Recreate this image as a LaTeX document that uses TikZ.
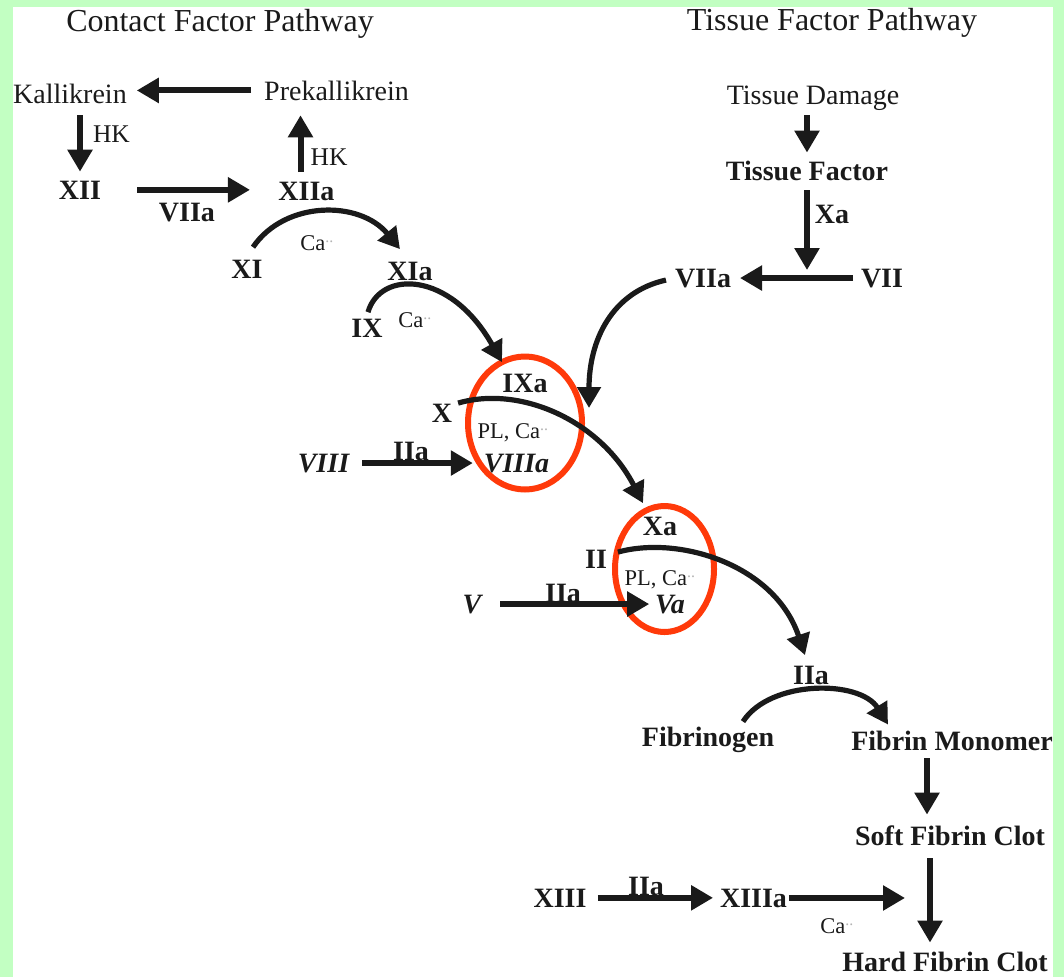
\documentclass[tikz,border=0pt]{standalone}
\usepackage{fontspec}
\setmainfont{Liberation Serif}
\usetikzlibrary{arrows.meta,shapes.geometric,calc}
\definecolor{bggreen}{HTML}{C2FFC2}
\definecolor{ringred}{HTML}{FF3A0A}
\definecolor{ink}{HTML}{1A1A1A}
\newcommand\CaPP{Ca\textsuperscript{\textcolor{black!30}{..}}}
\begin{document}
\begin{tikzpicture}[x=1pt,y=-1pt,
  lbl/.style={inner sep=0pt, outer sep=0pt, anchor=base, text=ink, font=\fontsize{28}{33}\selectfont},
  bl/.style={lbl, font=\fontsize{28}{33}\selectfont\bfseries},
  bi/.style={lbl, font=\fontsize{28}{33}\selectfont\bfseries\itshape},
  ttl/.style={lbl, font=\fontsize{32}{38}\selectfont},
  hk/.style={lbl, font=\fontsize{25.5}{30}\selectfont},
  sm/.style={lbl, font=\fontsize{22.5}{27}\selectfont},
  arr/.style={draw=ink, line width=6pt, -{Triangle[length=22pt,width=24pt]}},
  carr/.style={draw=ink, line width=5.2pt, -{Triangle[length=21pt,width=23pt]}},
  ring/.style={draw=ringred, line width=6pt, ellipse, inner sep=0pt, outer sep=0pt}
]
\fill[bggreen] (0,0) rectangle (1064,977);
\fill[white] (13,7) rectangle (1053,977);
\useasboundingbox (0,0) rectangle (1064,977);

% red rings
\node[ring, minimum width=114pt, minimum height=133pt] (e1) at (525,423) {};
\node[ring, minimum width=99pt, minimum height=126pt] (e2) at (664.5,569) {};

% titles
\node[ttl] (tc) at (220,31) {Contact Factor Pathway};
\node[ttl] (tt) at (832,30) {Tissue Factor Pathway};

% contact pathway
\node[lbl] (kal) at (70,103) {Kallikrein};
\node[lbl] (pre) at (336.5,100) {Prekallikrein};
\node[hk] (hk1) at (111.5,142) {HK};
\node[hk] (hk2) at (329,165) {HK};
\node[bl] (xii) at (80,199) {XII};
\node[bl] (xiia) at (306.5,200) {XIIa};
\node[bl] (l7a) at (187,221) {VIIa};
\node[bl] (xi) at (247,278) {XI};
\node[bl] (xia) at (410,280) {XIa};
\node[sm] (ca1) at (317,250) {\CaPP};
\node[bl] (ix) at (367,337) {IX};
\node[sm] (ca2) at (415,327) {\CaPP};

% tissue factor pathway
\node[lbl] (td) at (813,104) {Tissue Damage};
\node[bl] (tf) at (807,180) {Tissue Factor};
\node[bl] (xal) at (832,223) {Xa};
\node[bl] (viiar) at (703,287) {VIIa};
\node[bl] (vii) at (882,287) {VII};

% tenase
\node[bl] (ixa) at (525,392) {IXa};
\node[bl] (xx) at (442,422) {X};
\node[sm] (pl1) at (513,438) {PL, \CaPP};
\node[bi] (viiia) at (516.5,472) {VIIIa};
\node[bi] (viii) at (323.5,472) {VIII};
\node[bl] (iia1) at (411,460) {IIa};

% prothrombinase
\node[bl] (xa) at (660,535) {Xa};
\node[bl] (ii) at (596,568) {II};
\node[sm] (pl2) at (660,585) {PL, \CaPP};
\node[bi] (va) at (670,613) {Va};
\node[bi] (v) at (472,613) {V};
\node[bl] (iia2) at (563,602) {IIa};

% fibrin
\node[bl] (iia3) at (811,684) {IIa};
\node[bl] (fib) at (708,746) {Fibrinogen};
\node[bl] (fm) at (952,750) {Fibrin Monomer};
\node[bl] (sfc) at (950,845) {Soft Fibrin Clot};
\node[bl] (hfc) at (945,971) {Hard Fibrin Clot};
\node[bl] (xiii) at (560,907) {XIII};
\node[bl] (xiiia) at (753.5,907) {XIIIa};
\node[bl] (iia4) at (646,895) {IIa};
\node[sm] (ca3) at (837,933) {\CaPP};
\coordinate (xend) at (905,898);

% straight connectors
\draw[arr, shorten <=13pt, shorten >=10pt] (pre.west) -- (pre.west -| kal.east);
\draw[arr, shorten <=12pt, shorten >=9pt] (kal.south -| xii.north) -- (xii.north);
\draw[arr, shorten <=36pt, shorten >=28.5pt] (xii.east) -- (xii.east -| xiia.west);
\draw[arr, shorten <=9.5pt, shorten >=15pt] ([xshift=-6pt]xiia.north) -- ([xshift=-6pt]xiia.north |- pre.south);
\draw[arr, shorten <=5pt, shorten >=8pt] (td.south -| tf.north) -- (tf.north);
\draw[arr, shorten <=10pt, shorten >=8pt] (tf.south) -- (tf.south |- vii.west);
\draw[arr, shorten <=8pt, shorten >=9pt] (vii.west) -- (vii.west -| viiar.east);
\draw[arr, shorten <=13pt, shorten >=11pt] (viii.east) -- (viii.east -| viiia.west);
\draw[arr, shorten <=19pt, shorten >=6pt] (v.east) -- (v.east -| va.west);
\draw[arr, shorten <=8pt, shorten >=10.7pt] ([xshift=-25pt]fm.south) -- ([xshift=-25pt]fm.south |- sfc.north);
\draw[arr, shorten <=13pt, shorten >=9pt] ([xshift=-20pt]sfc.south) -- ([xshift=-20pt]sfc.south |- hfc.north);
\draw[arr, shorten <=11.5pt, shorten >=7pt] (xiii.east) -- (xiii.east -| xiiia.west);
\draw[arr, shorten <=2pt] (xiiia.east) -- (xiiia.east -| xend);

% curved connectors
\draw[carr] ([xshift=6pt,yshift=12.5pt]xi.north) .. controls +(32,-47) and +(-40,-49) .. ([xshift=-10pt,yshift=12.5pt]xia.north);
\draw[carr] ([xshift=1pt,yshift=6.5pt]ix.north) .. controls +(12,-42) and +(-52,-92) .. ([xshift=-23pt,yshift=11.5pt]ixa.north);
\draw[carr] ([xshift=6pt,yshift=9.75pt]xx.east) .. controls +(62,-18) and +(-43,-83) .. ([xshift=-17pt,yshift=13.5pt]xa.north);
\draw[carr] ([xshift=-9pt,yshift=-2pt]viiar.west) .. controls +(-54,12) and +(0,-68) .. ([xshift=64pt,yshift=15pt]e1.center);
\draw[carr] ([xshift=11pt,yshift=6.75pt]ii.east) .. controls +(62,-17) and +(-30,-90) .. ([xshift=-6pt,yshift=10.5pt]iia3.north);
\draw[carr] ([xshift=35pt,yshift=5pt]fib.north) .. controls +(27,-42) and +(-28,-45) .. ([xshift=-64pt,yshift=6pt]fm.north);
\end{tikzpicture}
\end{document}
